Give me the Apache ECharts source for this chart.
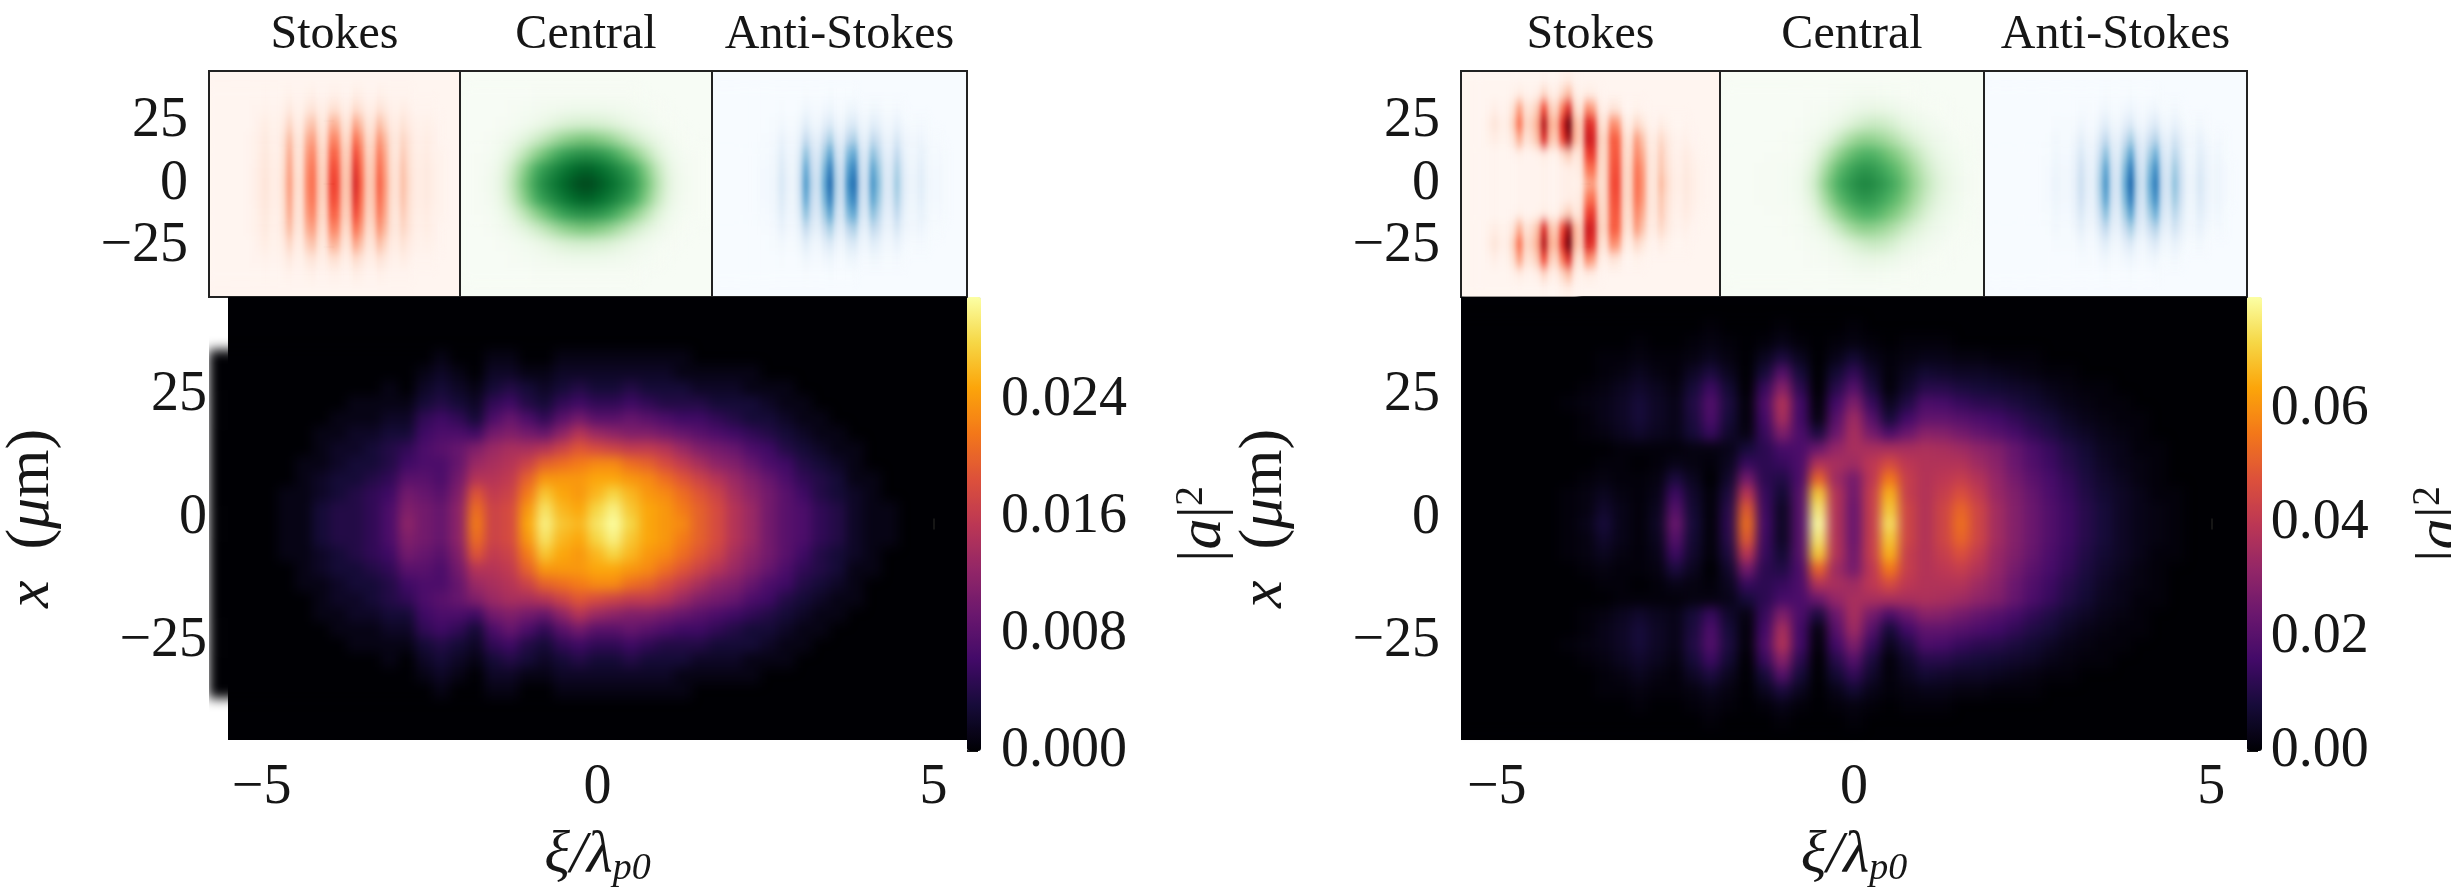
<!DOCTYPE html>
<html><head><meta charset="utf-8">
<style>html,body{margin:0;background:#fff}#c{width:2451px;height:893px}</style>
<script src="https://cdn.jsdelivr.net/npm/echarts@6/dist/echarts.min.js"></script>
</head><body>
<svg width="0" height="0" style="position:absolute">
<filter id="blurMain" x="0" y="0" width="100%" height="100%" color-interpolation-filters="sRGB"><feGaussianBlur stdDeviation="5.5 6"/></filter>
<filter id="blurFringe" x="0" y="0" width="100%" height="100%" color-interpolation-filters="sRGB"><feGaussianBlur stdDeviation="2.4 6"/></filter>
<filter id="blurSmooth" x="0" y="0" width="100%" height="100%" color-interpolation-filters="sRGB"><feGaussianBlur stdDeviation="6 6"/></filter>
</svg>
<div id="c"></div>
<script>
// Values. Each list runs from the centre line (x = 0) out to the top edge;
// the panels are mirror-symmetric about x = 0. Trailing zeros are left out.
// Main maps: |a|^2 in thousandths.
const mainLeftRows = [
[0,0,0,0,1,1,3,4,4,5,7,12,10,9,12,22,17,18,25,30,27,26,29,31,28,25,24,23,20,18,15,13,10,8,7,5,4,2,1,1],
[0,0,0,0,1,1,3,4,4,5,7,11,10,9,12,21,17,18,24,29,26,25,28,30,27,25,24,22,20,18,15,13,10,8,7,5,4,2,1,1],
[0,0,0,0,1,1,2,3,4,5,6,10,9,8,11,19,16,17,22,27,25,24,26,28,26,24,23,21,19,17,14,12,10,8,6,4,3,2,1],
[0,0,0,0,0,1,2,3,3,4,5,8,8,7,10,15,15,16,20,24,24,24,25,25,24,23,21,19,17,15,13,11,9,7,5,4,3,1,1],
[0,0,0,0,0,1,1,2,3,3,4,6,7,7,9,13,14,15,17,20,21,22,23,23,21,20,18,16,14,12,11,9,7,6,4,3,2,1],
[0,0,0,0,0,0,1,2,2,3,4,5,7,8,9,11,13,14,14,15,17,19,18,17,16,16,15,13,11,10,9,7,6,4,3,2,1,1],
[0,0,0,0,0,0,1,1,2,2,3,3,6,7,7,6,10,11,10,9,12,15,13,12,11,11,10,9,8,7,6,5,4,3,2,1,1],
[0,0,0,0,0,0,0,1,1,1,2,2,5,6,5,3,7,9,7,5,8,10,8,8,9,8,7,6,6,5,4,3,3,2,1,1],
[0,0,0,0,0,0,0,0,1,1,1,1,3,4,3,2,5,6,4,3,5,6,5,5,6,5,4,4,4,3,3,3,2,1,1],
[0,0,0,0,0,0,0,0,0,0,1,0,2,3,2,1,3,4,3,2,3,4,3,3,4,3,3,3,2,2,2,1,1,1],
[0,0,0,0,0,0,0,0,0,0,0,0,1,2,1,0,2,2,1,1,2,2,2,2,2,2,2,1,1,1,1,1],
[0,0,0,0,0,0,0,0,0,0,0,0,0,1,0,0,1,1,0,0,1,1,1,1,1,1,1,1],
[],[],[],[]];
const mainRightRows = [
[0,0,0,0,0,0,1,3,8,3,1,5,24,8,1,12,54,16,5,20,80,38,24,42,74,44,38,44,54,44,35,29,24,19,15,11,8,5,3,2,1],
[0,0,0,0,0,0,1,2,6,3,1,4,20,7,1,11,50,15,5,20,76,38,24,42,70,44,38,44,52,44,35,29,24,19,15,11,8,5,3,2,1],
[0,0,0,0,0,0,1,2,4,2,1,3,15,6,1,9,40,14,7,20,70,38,25,42,66,42,38,42,47,41,33,28,23,18,14,10,7,5,3,1,1],
[0,0,0,0,0,0,0,1,2,1,1,2,9,4,0,6,26,12,10,18,52,34,26,40,56,42,38,40,42,38,32,26,21,17,13,9,6,4,2,1],
[0,0,0,0,0,0,0,0,1,1,0,1,3,2,1,4,14,12,14,18,38,36,34,40,46,40,38,38,38,34,30,24,19,15,11,8,5,3,2,1],
[0,0,0,0,0,0,0,0,0,1,1,1,1,2,2,3,8,12,17,18,24,32,36,36,36,36,37,36,34,31,28,23,18,14,10,7,4,3,1,1],
[0,0,0,0,0,0,0,1,2,4,6,4,3,8,14,6,2,14,28,18,9,24,36,26,18,24,30,29,26,23,20,17,13,10,7,5,3,2,1],
[0,0,0,0,0,0,0,1,3,5,8,5,3,9,18,8,1,16,36,16,2,20,34,20,8,16,22,22,20,18,16,13,10,8,5,3,2,1,1],
[0,0,0,0,0,0,1,2,3,5,8,5,3,10,19,9,1,18,38,16,1,16,28,14,4,10,18,17,14,12,11,9,7,5,3,2,1,1],
[0,0,0,0,0,0,0,1,2,4,6,4,2,8,15,7,0,14,30,12,0,11,20,9,1,6,11,11,9,8,7,6,5,3,2,1,1],
[0,0,0,0,0,0,0,0,1,2,4,2,1,5,9,4,0,8,20,8,0,7,13,6,1,4,7,6,5,5,4,3,2,1,1],
[0,0,0,0,0,0,0,0,1,1,2,1,1,2,4,2,0,4,9,4,0,3,7,3,1,2,3,3,2,2,1,1,1],
[0,0,0,0,0,0,0,0,0,0,1,0,0,1,2,1,0,1,3,1,0,1,2,1,0,1,1,1],
[0,0,0,0,0,0,0,0,0,0,0,0,0,0,1,0,0,0,1,0,0,0,1],
[],[]];
// Small maps: position on each colour scale, 0-100.
const leftStokesRows = [
[0,0,0,0,0,0,1,3,6,10,5,4,14,36,14,12,42,50,20,18,62,60,22,24,72,52,20,22,54,36,14,10,24,14,6,5,7,4,2,1],
[0,0,0,0,0,0,1,3,6,9,5,4,13,34,13,11,40,48,19,17,59,57,21,23,68,49,19,21,51,34,13,10,23,13,6,5,7,4,2,1],
[0,0,0,0,0,0,1,2,5,8,4,3,12,31,12,10,36,43,17,15,53,51,19,20,61,44,17,19,46,31,12,8,20,12,5,4,6,3,2,1],
[0,0,0,0,0,0,1,2,4,7,3,3,10,25,10,8,29,34,14,12,42,41,15,16,49,35,14,15,37,25,10,7,16,10,4,3,5,3,1],
[0,0,0,0,0,0,0,1,3,5,2,2,6,16,6,5,19,23,9,8,28,27,10,11,32,23,9,10,24,16,6,5,11,6,3,2,3,2,1],
[0,0,0,0,0,0,0,1,1,2,1,1,3,7,3,2,8,10,4,4,12,12,4,5,14,10,4,4,11,7,3,2,5,3,1,1,1,1],
[0,0,0,0,0,0,0,0,0,1,0,0,1,2,1,1,2,3,1,1,3,3,1,1,4,3,1,1,3,2,1,1,1,1],
[]];
const leftCentralRows = [
[0,1,4,12,30,52,70,80,88,95,100,95,88,80,70,52,30,12,4,1,0],
[0,1,3,10,26,46,64,74,82,88,92,88,82,74,64,46,26,10,3,1,0],
[0,1,2,6,16,30,44,56,66,72,74,72,66,56,44,30,16,6,2,1,0],
[0,0,1,3,7,14,22,31,40,45,48,45,40,31,22,14,7,3,1],
[0,0,0,1,2,4,7,12,16,18,19,18,16,12,7,4,2,1],
[0,0,0,0,1,2,3,4,5,6,6,6,5,4,3,2,1],
[0,0,0,0,0,0,1,1,1,1,1,1,1,1,1],
[]];
const leftAntiRows = [
[0,0,0,0,0,0,0,1,2,3,5,16,7,5,20,60,28,18,50,80,32,22,65,78,25,20,62,42,14,14,38,14,6,6,12,5,2,3,1],
[0,0,0,0,0,0,0,1,2,3,4,14,6,4,18,54,25,16,45,72,29,20,58,70,22,18,56,38,13,13,34,13,5,5,11,4,2,3,1],
[0,0,0,0,0,0,0,1,1,2,4,11,5,4,14,42,20,13,35,56,22,15,46,55,18,14,43,29,10,10,27,10,4,4,8,4,1,2,1],
[0,0,0,0,0,0,0,0,1,1,2,7,3,2,8,25,12,8,21,34,13,9,27,33,10,8,26,18,6,6,16,6,3,3,5,2,1,1],
[0,0,0,0,0,0,0,0,0,1,1,3,1,1,4,11,5,3,9,14,6,4,12,14,5,4,11,8,3,3,7,3,1,1,2,1],
[0,0,0,0,0,0,0,0,0,0,0,1,0,0,1,4,2,1,3,5,2,1,4,5,2,1,4,3,1,1,2,1],
[0,0,0,0,0,0,0,0,0,0,0,0,0,0,0,1,0,0,0,1,0,0,0,1],
[]];
const rightStokesRows = [
[0,0,0,0,0,1,0,0,0,1,1,1,1,2,1,1,3,4,2,5,30,34,12,16,58,60,16,16,50,38,10,8,26,14,5,4,8,5,2,1],
[0,0,0,0,0,1,0,0,0,1,1,1,1,2,1,1,3,4,4,8,46,50,14,16,56,58,16,16,48,36,10,8,22,12,4,3,7,4,2,1],
[0,0,0,0,0,1,0,0,1,3,1,1,2,5,2,2,12,20,8,12,62,65,16,16,54,55,15,14,42,30,9,7,20,10,3,3,6,3,1],
[0,0,0,0,2,5,2,2,10,30,10,14,25,70,24,20,60,90,28,18,75,72,18,16,54,52,14,10,35,22,6,5,15,7,2,1,3,1],
[0,0,0,0,4,10,4,4,18,50,16,18,32,85,30,26,68,100,28,18,70,66,14,10,40,36,7,4,15,9,2,1,5,2,0,0,1],
[0,0,0,0,1,4,1,2,12,35,12,12,22,60,20,16,46,70,16,8,40,34,6,3,10,8,1,0,2,1],
[0,0,0,0,0,0,0,0,2,5,2,1,4,15,5,4,15,25,6,2,5,4,1],
[0,0,0,0,0,0,0,0,0,0,0,0,0,1,0,0,3,5,1]];
const rightCentralRows = [
[0,0,0,1,1,2,6,20,45,62,72,78,74,66,55,40,26,14,7,3,1],
[0,0,0,1,1,2,5,16,38,56,66,72,68,60,50,36,22,12,6,2,1],
[0,0,0,0,1,1,3,10,26,42,54,60,58,50,40,28,16,8,4,2],
[0,0,0,0,0,1,2,5,12,24,36,42,40,34,25,16,9,5,2,1],
[0,0,0,0,0,0,1,2,4,9,16,22,24,20,13,8,4,2,1],
[0,0,0,0,0,0,0,1,2,3,6,9,10,8,5,3,1,1],
[0,0,0,0,0,0,0,0,0,1,2,3,3,2,1,1],
[]];
const rightAntiRows = [
[0,0,0,0,0,0,0,0,0,1,2,6,3,3,8,22,10,8,32,62,22,16,50,80,30,18,50,72,24,16,42,22,6,6,16,8,3,5,2,1],
[0,0,0,0,0,0,0,0,0,1,2,5,3,3,7,20,9,7,29,56,20,14,45,72,27,16,45,65,22,14,38,20,5,5,14,7,3,5,2,1],
[0,0,0,0,0,0,0,0,0,1,1,4,2,2,6,15,7,6,22,43,15,11,35,56,21,13,35,50,17,11,29,15,4,4,11,6,2,4,1],
[0,0,0,0,0,0,0,0,0,0,1,3,1,1,3,9,4,3,13,26,9,7,21,34,13,8,21,30,10,7,18,9,3,3,7,3,1,2,1],
[0,0,0,0,0,0,0,0,0,0,0,1,1,1,1,4,2,1,6,11,4,3,9,14,5,3,9,13,4,3,8,4,1,1,3,1],
[0,0,0,0,0,0,0,0,0,0,0,0,0,0,0,1,1,0,2,4,1,1,3,5,2,1,3,4,1,1,3,1],
[0,0,0,0,0,0,0,0,0,0,0,0,0,0,0,0,0,0,0,1,0,0,0,1,0,0,0,1],
[]];
const titles = ['Stokes','Central','Anti-Stokes'];
const xTicks = [-5,0,5];
const yTicks = [-25,0,25];
const barTicksLeft = [0,8,16,24];
const barTicksRight = [0,20,40,60];
const barMaxLeft = 31.1, barMaxRight = 79.7;
const reds = ['#fff5f0','#fee0d2','#fcbba1','#fc9272','#fb6a4a','#ef3b2c','#cb181d','#a50f15','#67000d'];
const greens = ['#f7fcf5','#e5f5e0','#c7e9c0','#a1d99b','#74c476','#41ab5d','#238b45','#006d2c','#00441b'];
const blues = ['#f7fbff','#deebf7','#c6dbef','#9ecae1','#6baed6','#4292c6','#2171b5','#08519c','#08306b'];
const inferno = ['#000004','#160b39','#420a68','#6a176e','#932667','#bc3754','#dd513a','#f37819','#fca50a','#f6d746','#fcffa4'];

const W = 2451, H = 893, SERIF = 'Liberation Serif', INK = '#161616';
const topY = 71, topH = 226, mainY = 297, mainH = 454;
const panels = [
 {rows:leftStokesRows,  cols:42, x:209,  w:251, y:topY,  h:topH,  f:'blurFringe', tint:reds[0],  title:0, ticksY:true},
 {rows:leftCentralRows, cols:21, x:460,  w:252, y:topY,  h:topH,  f:'blurSmooth', tint:greens[0],title:1},
 {rows:leftAntiRows,    cols:42, x:712,  w:255, y:topY,  h:topH,  f:'blurFringe', tint:blues[0], title:2},
 {rows:mainLeftRows,    cols:44, x:209,  w:758, y:mainY, h:mainH, f:'blurMain',   tint:inferno[0], main:true, overY:1},
 {rows:rightStokesRows, cols:42, x:1461, w:259, y:topY,  h:topH,  f:'blurFringe', tint:reds[0],  title:0, ticksY:true},
 {rows:rightCentralRows,cols:21, x:1720, w:264, y:topY,  h:topH,  f:'blurSmooth', tint:greens[0],title:1},
 {rows:rightAntiRows,   cols:42, x:1984, w:263, y:topY,  h:topH,  f:'blurFringe', tint:blues[0], title:2},
 {rows:mainRightRows,   cols:45, x:1461, w:786, y:mainY, h:mainH, f:'blurMain',   tint:inferno[0], main:true, overX:1, overY:1}
];
const bars = [
 {x:967, w:14, max:barMaxLeft, ticks:barTicksLeft, digits:3, nameGap:190},
 {x:2247,w:15, max:barMaxRight,ticks:barTicksRight,digits:2, nameGap:158}
];
const fmtTick = v => String(v).replace('-','\u2212');
const tickStyle = {show:true,length:11,lineStyle:{color:INK,width:2}};
const labelStyle = {fontFamily:SERIF,fontSize:56,color:INK};
const grid=[], xAxis=[], yAxis=[], series=[]; let css='';
panels.forEach((p,i)=>{
  const half=p.rows.length, total=half*2-1, ox=p.overX||0, oy=p.overY||0;
  const cw=p.w/(p.cols-ox), ch=p.h/(total-oy);
  grid[i]={left:p.x-cw*ox/2,top:p.y-ch*oy/2,width:cw*p.cols,height:ch*total,show:false};
  xAxis[i]={type:'category',gridIndex:i,show:false,data:Array.from({length:p.cols},(_,k)=>k)};
  yAxis[i]={type:'category',gridIndex:i,show:false,data:Array.from({length:total},(_,k)=>k)};
  const data=[];
  p.rows.forEach((row,r)=>row.forEach((v,c)=>{
    data.push([c,half-1+r,v]);
    if(r) data.push([c,half-1-r,v]);
  }));
  series.push({type:'heatmap',xAxisIndex:i,yAxisIndex:i,data,zlevel:i+1,progressive:0,silent:true,itemStyle:{borderWidth:0},emphasis:{disabled:true}});
  const e=p.main?0:1;
  css+=`canvas[data-zr-dom-id="zr_${i+1}"]{filter:url(#${p.f});clip-path:inset(${p.y+e}px ${W-p.x-p.w+e}px ${H-p.y-p.h+(p.main?0:0)}px ${p.x+e}px)}\n`;
  // frame grid carrying real-unit axes, spine and the panel ground
  const g=panels.length+i;
  grid[g]={left:p.x,top:p.y,width:p.w,height:p.h,show:true,backgroundColor:p.tint,borderColor:p.main?'#000':'#222',borderWidth:p.main?0:2};
  const isMain=!!p.main;
  xAxis[g]={type:'value',gridIndex:g,min:-5.5,max:5.5,position:isMain?'bottom':'top',splitLine:{show:false},axisLine:{show:false},
    axisTick:isMain?{...tickStyle,customValues:xTicks}:{show:false},
    axisLabel:isMain?{...labelStyle,customValues:xTicks,formatter:fmtTick,margin:20}:{show:false},
    name:isMain?'{a|\u03be/\u03bb}{s|p0}':titles[p.title],nameLocation:'middle',nameGap:isMain?84:12,
    nameTextStyle:isMain?{fontFamily:SERIF,fontSize:60,color:INK,rich:{a:{fontFamily:SERIF,fontSize:60,fontStyle:'italic',color:INK},s:{fontFamily:SERIF,fontSize:38,fontStyle:'italic',color:INK,padding:[26,0,0,0]}}}
      :{fontFamily:SERIF,fontSize:48,color:INK,verticalAlign:'bottom'}};
  const ticked=isMain||p.ticksY;
  yAxis[g]={type:'value',gridIndex:g,min:-45,max:45,splitLine:{show:false},axisLine:{show:false},
    axisTick:ticked?{...tickStyle,customValues:yTicks}:{show:false},
    axisLabel:ticked?{...labelStyle,customValues:yTicks,formatter:fmtTick,margin:21}:{show:false},
    name:isMain?'{i|x}  ({i|\u03bc}m)':'',nameLocation:'middle',nameRotate:90,nameGap:165,
    nameTextStyle:{fontFamily:SERIF,fontSize:62,color:INK,rich:{i:{fontFamily:SERIF,fontSize:62,fontStyle:'italic',color:INK}}}};
});
const visualMap=[
 {type:'continuous',show:false,min:0,max:100,seriesIndex:[0,4],inRange:{color:reds}},
 {type:'continuous',show:false,min:0,max:100,seriesIndex:[1,5],inRange:{color:greens}},
 {type:'continuous',show:false,min:0,max:100,seriesIndex:[2,6],inRange:{color:blues}}
];
bars.forEach((b,k)=>{
  const g=2*panels.length+k;
  grid[g]={left:b.x,top:mainY,width:b.w,height:mainH,show:false};
  xAxis[g]={type:'value',gridIndex:g,show:false};
  yAxis[g]={type:'value',gridIndex:g,position:'right',min:0,max:b.max,splitLine:{show:false},axisLine:{show:false},
    axisTick:{...tickStyle,customValues:b.ticks},
    axisLabel:{...labelStyle,customValues:b.ticks,margin:20,formatter:v=>(v/1000).toFixed(b.digits)},
    name:'|{i|a}|{u|2}',nameLocation:'middle',nameRotate:90,nameGap:b.nameGap,
    nameTextStyle:{fontFamily:SERIF,fontSize:62,color:INK,rich:{i:{fontFamily:SERIF,fontSize:62,fontStyle:'italic',color:INK},u:{fontFamily:SERIF,fontSize:40,color:INK,padding:[0,0,26,0]}}}};
  visualMap.push({type:'continuous',show:true,min:0,max:b.max,seriesIndex:k?7:3,inRange:{color:inferno},calculable:false,
    left:b.x,top:mainY,itemWidth:b.w,itemHeight:mainH,padding:0,text:null,showLabel:false,textStyle:{fontSize:0}});
});
const st=document.createElement('style'); st.textContent=css; document.head.appendChild(st);
const chart=echarts.init(document.getElementById('c'),null,{renderer:'canvas',width:W,height:H});
chart.setOption({animation:false,backgroundColor:'#fff',tooltip:{show:false},grid,xAxis,yAxis,visualMap,series});
</script></body></html>
